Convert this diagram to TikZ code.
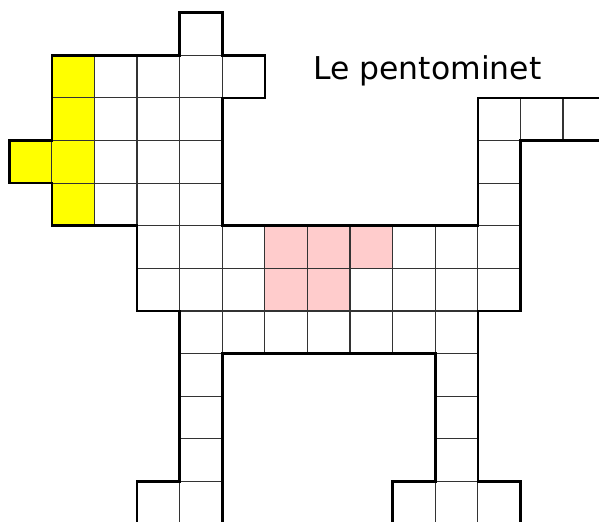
\documentclass[tikz,border=0pt]{standalone}
\usepackage{fontspec}
\newfontfamily\labelfont{DejaVu Sans}
\definecolor{pentayellow}{HTML}{FFFF00}
\definecolor{pentapink}{HTML}{FFCCCC}
\tikzset{
	cell/.style={draw=black!80,line width=0.8pt},
	rim/.style={line width=1.8pt,line join=miter}
}
\begin{document}
\begin{tikzpicture}[x=1cm,y=-1cm]
	\useasboundingbox (-0.218,-0.298) rectangle (13.843,11.932);
	\clip (-0.218,-0.298) rectangle (13.843,11.932);
	% coloured pentominoes
	\foreach \c/\r in {1/1,1/2,0/3,1/3,1/4}
		\fill[pentayellow] (\c,\r) rectangle ++(1,1);
	\foreach \c/\r in {6/5,7/5,8/5,6/6,7/6}
		\fill[pentapink] (\c,\r) rectangle ++(1,1);
	% cells, row by row
	\draw[cell] (4,0) rectangle ++(1,1);
	\foreach \c in {1,...,5}
		\draw[cell] (\c,1) rectangle ++(1,1);
	\foreach \c in {1,2,3,4,11,12,13}
		\draw[cell] (\c,2) rectangle ++(1,1);
	\foreach \c in {0,1,2,3,4,11}
		\draw[cell] (\c,3) rectangle ++(1,1);
	\foreach \c in {1,2,3,4,11}
		\draw[cell] (\c,4) rectangle ++(1,1);
	\foreach \r in {5,6}
		\foreach \c in {3,...,11}
			\draw[cell] (\c,\r) rectangle ++(1,1);
	\foreach \c in {4,...,10}
		\draw[cell] (\c,7) rectangle ++(1,1);
	\foreach \r in {8,9,10}
		\foreach \c in {4,10}
			\draw[cell] (\c,\r) rectangle ++(1,1);
	\foreach \c in {3,4,9,10,11}
		\draw[cell] (\c,11) rectangle ++(1,1);
	% outline
	\draw[rim] (4,0) -- (5,0) -- (5,1) -- (6,1) -- (6,2) -- (5,2) -- (5,5) -- (11,5)
		-- (11,2) -- (14,2) -- (14,3) -- (12,3) -- (12,7) -- (11,7) -- (11,11)
		-- (12,11) -- (12,12) -- (9,12) -- (9,11) -- (10,11) -- (10,8) -- (5,8)
		-- (5,12) -- (3,12) -- (3,11) -- (4,11) -- (4,7) -- (3,7) -- (3,5)
		-- (1,5) -- (1,4) -- (0,4) -- (0,3) -- (1,3) -- (1,1) -- (4,1) -- cycle;
	\node[anchor=base west,inner sep=0pt,font=\labelfont\fontsize{21}{25}\selectfont] (title) at (7.13,1.563) {Le pentominet};
\end{tikzpicture}
\end{document}
